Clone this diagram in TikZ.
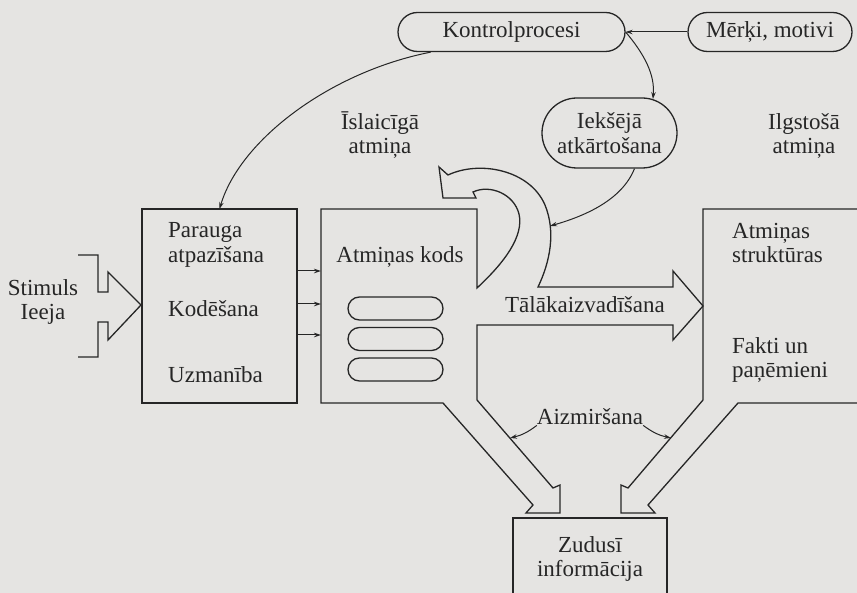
\documentclass[tikz,border=0pt]{standalone}
\usepackage{fontspec}
\setmainfont{Liberation Serif}
\usetikzlibrary{arrows.meta,shapes.misc}
\definecolor{paper}{RGB}{229,228,226}
\definecolor{ink}{RGB}{38,38,38}
\begin{document}
\begin{tikzpicture}[x=1pt,y=-1pt,
  every node/.style={text=ink, font=\fontsize{23}{24.5}\selectfont},
  outline/.style={draw=ink, line width=1.3pt},
  thinarrow/.style={draw=ink, line width=1pt, -{Stealth[length=7pt,width=4.5pt]}},
  pill/.style={draw=ink, line width=1.3pt, rounded rectangle, inner sep=0pt, align=center},
  label/.style={align=center, inner sep=0pt},
  frame/.style={inner sep=0pt, outer sep=0pt}]
\fill[paper] (0,0) rectangle (857,593);
\useasboundingbox (0,0) rectangle (857,593);

% control nodes at the top
\node[pill, minimum width=227pt, minimum height=39pt] (kontrol) at (511.5,32) {Kontrolprocesi};
\node[pill, minimum width=164pt, minimum height=39pt] (merki) at (770,32) {Mērķi, motivi};
\node[pill, minimum width=135pt, minimum height=70pt] (iek) at (609.5,133) {Iekšējā\\atkārtošana};

% sensory register
\node[frame, draw=ink, line width=1.3pt, minimum width=155pt, minimum height=194pt] (box1) at (219.5,306) {};
\node[label, align=left, anchor=west] (parauga) at (168,245) {Parauga\\atpazīšana};
\node[anchor=base west, inner sep=0pt] (kod) at (168,317) {Kodēšana};
\node[anchor=base west, inner sep=0pt] (uzm) at (168,383) {Uzmanība};

% short-term store (outline drawn together with the broad arrows)
\node[frame, minimum width=156pt, minimum height=194pt] (box2) at (399,306) {};
\node[anchor=base, inner sep=0pt] (kods) at (400,263) {Atmiņas kods};
\node[pill, minimum width=95pt, minimum height=23pt] (c1) at (395.5,308.5) {};
\node[pill, minimum width=95pt, minimum height=23pt] (c2) at (395.5,339) {};
\node[pill, minimum width=95pt, minimum height=23pt] (c3) at (395.5,369.5) {};

\foreach \yy in {271,304,335}
  \draw[thinarrow] (box1.east |- 0,\yy) -- (box2.west |- 0,\yy);

% stimulus input
\node[label] (stim) at (43,302) {Stimuls\\Ieeja};
\draw[outline] (78,255) -- (98,255) -- (98,292) -- (108,292) -- (108,272) -- (141,305)
  -- (108,340) -- (108,322) -- (98,322) -- (98,357) -- (78,357);

% short-term store with rehearsal loop, transfer and forgetting arrows
\draw[outline] (321,209) -- (477,209) -- (477,288)
  .. controls (505,262) and (524,236) .. (519,214)
  .. controls (514,194) and (490,184) .. (473,192)
  -- (476,198) -- (443,198) -- (439,167) -- (448,175)
  .. controls (480,160) and (530,170) .. (545,205)
  .. controls (556,232) and (550,262) .. (538,287)
  -- (673,287) -- (673,271) -- (703,306) -- (673,340) -- (673,325)
  -- (477,325) -- (477,400) -- (553,488) -- (560,485) -- (560,513)
  -- (526,513) -- (533,505) -- (443,403) -- (321,403) -- cycle;

% long-term store
\draw[outline] (860,209) -- (703,209) -- (703,400) -- (628,488) -- (621,485) -- (621,513)
  -- (655,513) -- (648,505) -- (738,403) -- (860,403);
\node[label, align=left, anchor=west] (struk) at (732,243) {Atmiņas\\struktūras};
\node[label, align=left, anchor=west] (fakti) at (732,360) {Fakti un\\paņēmieni};

% lost information
\draw[outline] (513,596) -- (513,518) -- (667,518) -- (667,596);
\node[label] (zud) at (590,559) {Zudusī\\informācija};

% labels
\node[label] (isl) at (380,135) {Īslaicīgā\\atmiņa};
\node[label] (ilg) at (804,136) {Ilgstošā\\atmiņa};
\node[anchor=base, inner sep=0pt] (tal) at (585,313) {Tālākaizvadīšana};
\node[anchor=base, inner sep=0pt] (aiz) at (590,425) {Aizmiršana};

% thin connectors
\coordinate (loop) at (550,226);
\coordinate (fl) at (510,438);
\coordinate (fr) at (671,438);
\draw[thinarrow] (merki.west) -- (kontrol.east);
\draw[thinarrow] (kontrol.194) .. controls (330,72) and (240,140) .. (box1.north);
\draw[thinarrow] (kontrol.east) .. controls (645,55) and (655,75) .. (iek.38);
\draw[thinarrow] (iek.-55) .. controls (622,200) and (585,216) .. (loop);
\draw[thinarrow] (aiz.south west) to[bend left=12] (fl);
\draw[thinarrow] (aiz.south east) to[bend right=12] (fr);
\end{tikzpicture}
\end{document}
